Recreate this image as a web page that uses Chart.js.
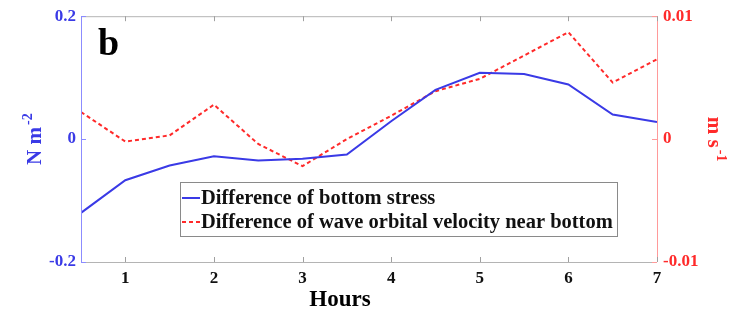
<!DOCTYPE html>
<html>
<head>
<meta charset="utf-8">
<script src="https://cdn.jsdelivr.net/npm/chart.js@4/dist/chart.umd.min.js"></script>
<style>
  body { margin: 0; background: #fff; }
  #wrap { width: 735px; height: 312px; position: relative; }
</style>
</head>
<body>
<div id="wrap"><canvas id="diffChart"></canvas></div>
<script>
// hours after start, sampled every half hour
const hours = [0.5, 1, 1.5, 2, 2.5, 3, 3.5, 4, 4.5, 5, 5.5, 6, 6.5, 7];
// difference of bottom stress (N m-2), left axis
const stressDiff = [-0.12, -0.067, -0.043, -0.028, -0.035, -0.032, -0.025, 0.029, 0.08, 0.108, 0.106, 0.089, 0.04, 0.028];
// difference of wave orbital velocity near bottom (m s-1), right axis
const velocityDiff = [0.0022, -0.0002, 0.0003, 0.0028, -0.0004, -0.0022, 0.0, 0.0019, 0.0039, 0.0049, 0.0068, 0.0087, 0.0046, 0.0065];

const xTicks = [1, 2, 3, 4, 5, 6, 7];
const leftTicks = [-0.2, 0, 0.2];
const rightTicks = [-0.01, 0, 0.01];

const SERIF = "'Liberation Serif', 'Times New Roman', serif";
const BLUE = "#3a3ae6";
const RED = "#ff2a2a";

function toPoints(values) {
    return hours.map((h, i) => ({ x: h, y: values[i] }));
}

// draws frame, inward ticks, axis titles, panel letter and the boxed legend
const decorPlugin = {
    id: "decor",
    afterDraw(chart) {
        const ctx = chart.ctx;
        const area = chart.chartArea;
        const x = chart.scales.x, y = chart.scales.y, y1 = chart.scales.y1;
        ctx.save();

        // frame
        ctx.lineWidth = 1;
        ctx.strokeStyle = "#b4b4b4";
        ctx.beginPath();
        ctx.moveTo(area.left, area.top + 0.5); ctx.lineTo(area.right, area.top + 0.5);
        ctx.moveTo(area.left, area.bottom + 0.5); ctx.lineTo(area.right, area.bottom + 0.5);
        ctx.stroke();
        ctx.strokeStyle = "#8c8cff";
        ctx.beginPath();
        ctx.moveTo(area.left + 0.5, area.top); ctx.lineTo(area.left + 0.5, area.bottom);
        ctx.stroke();
        ctx.strokeStyle = "#ff9a9a";
        ctx.beginPath();
        ctx.moveTo(area.right + 0.5, area.top); ctx.lineTo(area.right + 0.5, area.bottom);
        ctx.stroke();

        // inward tick marks
        const len = 5;
        ctx.strokeStyle = "#a0a0a0";
        ctx.beginPath();
        xTicks.forEach(v => {
            const px = Math.round(x.getPixelForValue(v)) + 0.5;
            ctx.moveTo(px, area.bottom); ctx.lineTo(px, area.bottom - len);
            ctx.moveTo(px, area.top); ctx.lineTo(px, area.top + len);
        });
        ctx.stroke();
        ctx.strokeStyle = "#8c8cff";
        ctx.beginPath();
        leftTicks.forEach(v => {
            const py = Math.round(y.getPixelForValue(v)) + 0.5;
            ctx.moveTo(area.left, py); ctx.lineTo(area.left + len, py);
        });
        ctx.stroke();
        ctx.strokeStyle = "#ff9a9a";
        ctx.beginPath();
        rightTicks.forEach(v => {
            const py = Math.round(y1.getPixelForValue(v)) + 0.5;
            ctx.moveTo(area.right, py); ctx.lineTo(area.right - len, py);
        });
        ctx.stroke();

        // panel letter
        ctx.fillStyle = "#000";
        ctx.font = "bold 38px " + SERIF;
        ctx.textBaseline = "alphabetic";
        ctx.textAlign = "left";
        ctx.fillText("b", 98, 55);

        // x title
        ctx.font = "bold 23px " + SERIF;
        ctx.textAlign = "center";
        ctx.fillText("Hours", 340, 306);

        // y titles with superscripts
        drawRotatedTitle(ctx, "N m", "-2", 36, (area.top + area.bottom) / 2, -Math.PI / 2, BLUE);
        drawRotatedTitle(ctx, "m s", "-1", 713, (area.top + area.bottom) / 2, Math.PI / 2, RED);

        // legend box
        const bx = 180, by = 182, bw = 437, bh = 54;
        ctx.fillStyle = "#fff";
        ctx.fillRect(bx, by, bw, bh);
        ctx.strokeStyle = "#8a8a8a";
        ctx.lineWidth = 1;
        ctx.strokeRect(bx + 0.5, by + 0.5, bw, bh);
        ctx.font = "bold 20.5px " + SERIF;
        ctx.textAlign = "left";
        ctx.textBaseline = "middle";
        chart.data.datasets.forEach((ds, i) => {
            const ry = by + 16 + i * 24;
            ctx.strokeStyle = ds.borderColor;
            ctx.lineWidth = ds.borderWidth;
            ctx.setLineDash(ds.borderDash || []);
            ctx.beginPath();
            ctx.moveTo(bx + 2, ry); ctx.lineTo(bx + 20, ry);
            ctx.stroke();
            ctx.setLineDash([]);
            ctx.fillStyle = "#111";
            ctx.fillText(ds.label, bx + 21, ry + 1);
        });
        ctx.restore();
    }
};

function drawRotatedTitle(ctx, base, sup, cx, cy, angle, color) {
    ctx.save();
    ctx.translate(cx, cy);
    ctx.rotate(angle);
    ctx.fillStyle = color;
    ctx.textBaseline = "middle";
    ctx.textAlign = "left";
    ctx.font = "bold 21px " + SERIF;
    const w1 = ctx.measureText(base).width;
    ctx.font = "bold 14px " + SERIF;
    const w2 = ctx.measureText(sup).width;
    const start = -(w1 + w2 + 2) / 2;
    ctx.font = "bold 21px " + SERIF;
    ctx.fillText(base, start, 0);
    ctx.font = "bold 14px " + SERIF;
    ctx.fillText(sup, start + w1 + 2, -8);
    ctx.restore();
}

function getChartConfig() {
    return {
        type: "line",
        data: {
            datasets: [
                {
                    label: "Difference of bottom stress",
                    data: toPoints(stressDiff),
                    yAxisID: "y",
                    borderColor: BLUE,
                    borderWidth: 2,
                    pointRadius: 0,
                    tension: 0,
                },
                {
                    label: "Difference of wave orbital velocity near bottom",
                    data: toPoints(velocityDiff),
                    yAxisID: "y1",
                    borderColor: RED,
                    borderWidth: 2,
                    borderDash: [4, 3],
                    pointRadius: 0,
                    tension: 0,
                },
            ],
        },
        options: {
            responsive: true,
            maintainAspectRatio: false,
            animation: false,
            layout: { padding: { top: 12, bottom: 0, left: 0, right: 0 } },
            plugins: {
                legend: { display: false },
                tooltip: { enabled: false },
            },
            scales: {
                x: {
                    type: "linear",
                    min: 0.5,
                    max: 7,
                    afterBuildTicks: scale => { scale.ticks = xTicks.map(v => ({ value: v })); },
                    afterFit: scale => { scale.height = 50; },
                    grid: { display: false, drawTicks: false },
                    border: { display: false },
                    ticks: {
                        padding: 6,
                        color: "#111",
                        font: { family: SERIF, size: 17, weight: "bold" },
                    },
                },
                y: {
                    position: "left",
                    min: -0.2,
                    max: 0.2,
                    afterBuildTicks: scale => { scale.ticks = leftTicks.map(v => ({ value: v })); },
                    afterFit: scale => { scale.width = 81; },
                    grid: { display: false, drawTicks: false },
                    border: { display: false },
                    ticks: {
                        padding: 5,
                        color: BLUE,
                        font: { family: SERIF, size: 17, weight: "bold" },
                        callback: v => (v === 0 ? "0" : String(v)),
                    },
                },
                y1: {
                    position: "right",
                    min: -0.01,
                    max: 0.01,
                    afterBuildTicks: scale => { scale.ticks = rightTicks.map(v => ({ value: v })); },
                    afterFit: scale => { scale.width = 78; },
                    grid: { display: false, drawTicks: false },
                    border: { display: false },
                    ticks: {
                        padding: 6,
                        color: RED,
                        font: { family: SERIF, size: 17, weight: "bold" },
                        callback: v => (v === 0 ? "0" : String(v)),
                    },
                },
            },
        },
        plugins: [decorPlugin],
    };
}

new Chart(document.getElementById("diffChart").getContext("2d"), getChartConfig());
</script>
</body>
</html>
